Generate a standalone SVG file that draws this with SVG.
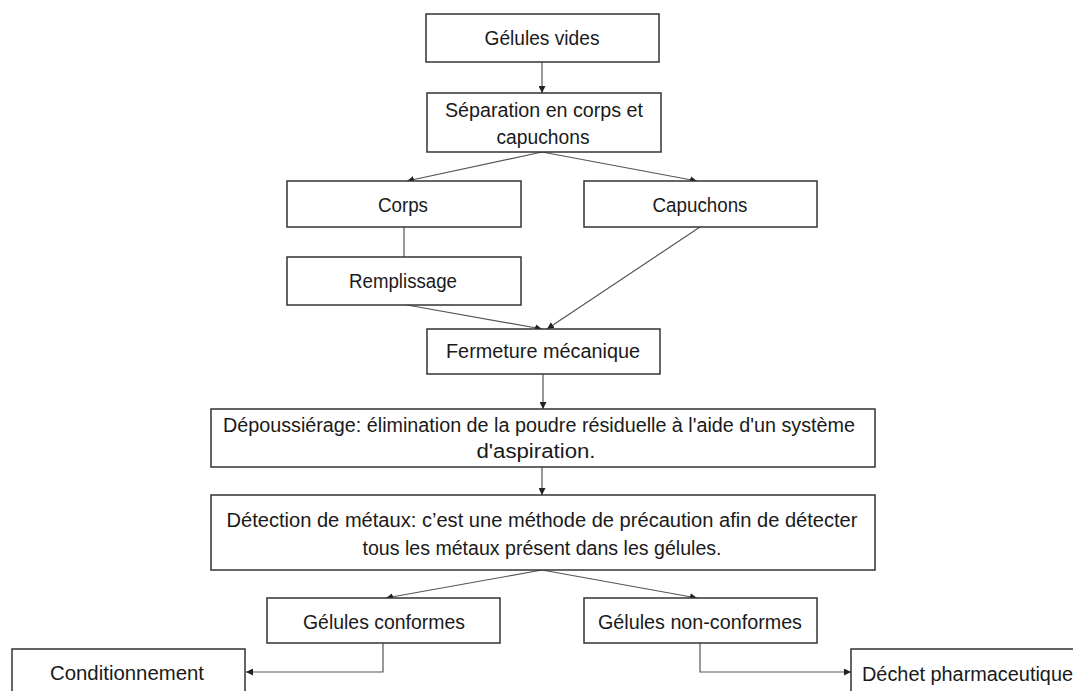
<svg xmlns="http://www.w3.org/2000/svg" width="1073" height="691" viewBox="0 0 1073 691">
<defs>
<style>
.box{fill:#fff;stroke:#333;stroke-width:1.5}
.t{font-family:"Liberation Sans",Arial,sans-serif;font-size:19.5px;fill:#1a1a1a;text-anchor:middle}
.c{fill:none;stroke:#555;stroke-width:1.2}
.a{marker-end:url(#ah)}
</style>
<marker id="ah" viewBox="0 0 10 10" refX="10" refY="5" markerWidth="7" markerHeight="7" markerUnits="userSpaceOnUse" orient="auto">
<path d="M0,0 L10,5 L0,10 z" fill="#222"/>
</marker>
</defs>
<rect width="1073" height="691" fill="#fff"/>
<g id="connectors">
<line class="c a" x1="542" y1="62" x2="542" y2="93"/>
<line class="c a" x1="542" y1="152" x2="407" y2="181"/>
<line class="c a" x1="542" y1="152" x2="697" y2="181"/>
<line class="c" x1="404" y1="227" x2="404" y2="257"/>
<line class="c a" x1="407" y1="305" x2="542" y2="329"/>
<line class="c a" x1="700" y1="227" x2="547" y2="329"/>
<line class="c a" x1="543" y1="374" x2="543" y2="409"/>
<line class="c a" x1="542" y1="467" x2="542" y2="495"/>
<line class="c a" x1="542" y1="570" x2="386" y2="598"/>
<line class="c a" x1="542" y1="570" x2="697" y2="598"/>
<polyline class="c a" points="383,643 383,672 246,672"/>
<polyline class="c a" points="700,643 700,672 851,672"/>
</g>
<g id="gelules-vides">
<rect class="box" x="426" y="14" width="233" height="48"/>
<text class="t" x="542" y="45" textLength="115" lengthAdjust="spacingAndGlyphs">Gélules vides</text>
</g>
<g id="separation">
<rect class="box" x="427" y="93" width="234" height="59"/>
<text class="t" x="544" y="117" textLength="198" lengthAdjust="spacingAndGlyphs">Séparation en corps et</text>
<text class="t" x="543" y="144" textLength="93" lengthAdjust="spacingAndGlyphs">capuchons</text>
</g>
<g id="corps">
<rect class="box" x="287" y="181" width="234" height="46"/>
<text class="t" x="403" y="212" textLength="50" lengthAdjust="spacingAndGlyphs">Corps</text>
</g>
<g id="capuchons">
<rect class="box" x="584" y="181" width="233" height="46"/>
<text class="t" x="700" y="212" textLength="95" lengthAdjust="spacingAndGlyphs">Capuchons</text>
</g>
<g id="remplissage">
<rect class="box" x="287" y="257" width="234" height="48"/>
<text class="t" x="403" y="288" textLength="108" lengthAdjust="spacingAndGlyphs">Remplissage</text>
</g>
<g id="fermeture">
<rect class="box" x="427" y="329" width="233" height="45"/>
<text class="t" x="543" y="358" textLength="194" lengthAdjust="spacingAndGlyphs">Fermeture mécanique</text>
</g>
<g id="depoussierage">
<rect class="box" x="211" y="409" width="664" height="58"/>
<text class="t" x="539" y="432" textLength="632" lengthAdjust="spacingAndGlyphs">Dépoussiérage: élimination de la poudre résiduelle à l'aide d'un système</text>
<text class="t" x="536" y="458" textLength="119" lengthAdjust="spacingAndGlyphs">d'aspiration.</text>
</g>
<g id="detection">
<rect class="box" x="211" y="495" width="664" height="75"/>
<text class="t" x="542" y="527" textLength="631" lengthAdjust="spacingAndGlyphs">Détection de métaux: c’est une méthode de précaution afin de détecter</text>
<text class="t" x="542" y="555" textLength="359" lengthAdjust="spacingAndGlyphs">tous les métaux présent dans les gélules.</text>
</g>
<g id="gelules-conformes">
<rect class="box" x="267" y="598" width="233" height="45"/>
<text class="t" x="384" y="629" textLength="162" lengthAdjust="spacingAndGlyphs">Gélules conformes</text>
</g>
<g id="gelules-non-conformes">
<rect class="box" x="584" y="598" width="233" height="45"/>
<text class="t" x="700" y="629" textLength="204" lengthAdjust="spacingAndGlyphs">Gélules non-conformes</text>
</g>
<g id="conditionnement">
<rect class="box" x="12" y="649" width="233" height="50"/>
<text class="t" x="127" y="680" textLength="154" lengthAdjust="spacingAndGlyphs">Conditionnement</text>
</g>
<g id="dechet">
<rect class="box" x="851" y="649" width="240" height="50"/>
<text class="t" x="862" y="681" style="text-anchor:start" textLength="211" lengthAdjust="spacingAndGlyphs">Déchet pharmaceutique</text>
</g>
</svg>
